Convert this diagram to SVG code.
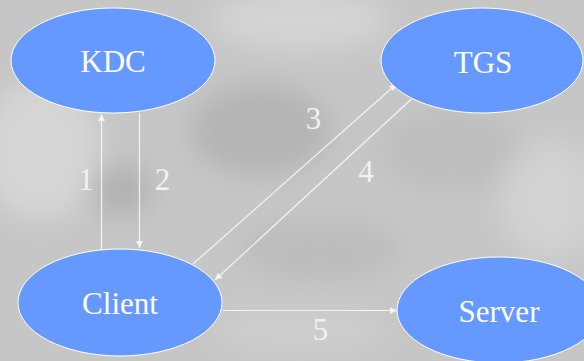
<svg xmlns="http://www.w3.org/2000/svg" width="584" height="361" viewBox="0 0 584 361">
  <style>
    .node ellipse { fill: #6699ff; stroke: #ffffff; stroke-width: 1; }
    .node text { font-family: "Liberation Serif", "Times New Roman", serif; font-size: 31px; fill: #ffffff; text-anchor: middle; }
    .edge line { stroke: #f4f4f4; stroke-width: 1.2; fill: none; marker-end: url(#arrow); }
    .lbl { font-family: "Liberation Serif", "Times New Roman", serif; font-size: 31px; fill: #f2f2f2; text-anchor: middle; }
  </style>
  <defs>
    <marker id="arrow" viewBox="0 0 10 10" refX="10" refY="5" markerWidth="9" markerHeight="7" markerUnits="userSpaceOnUse" orient="auto">
      <path d="M0,0 L10,5 L0,10 z" fill="#f4f4f4"/>
    </marker>
    <filter id="soft" x="-50%" y="-50%" width="200%" height="200%">
      <feGaussianBlur stdDeviation="14"/>
    </filter>
  </defs>

  <!-- grey mottled backdrop -->
  <rect width="584" height="361" fill="#c6c6c6"/>
  <g filter="url(#soft)">
    <ellipse cx="40" cy="150" rx="60" ry="70" fill="#d6d6d6"/>
    <ellipse cx="300" cy="20" rx="90" ry="30" fill="#d4d4d4"/>
    <ellipse cx="260" cy="130" rx="70" ry="45" fill="#b4b4b4"/>
    <ellipse cx="120" cy="190" rx="30" ry="25" fill="#b0b0b0"/>
    <ellipse cx="450" cy="150" rx="70" ry="40" fill="#bdbdbd"/>
    <ellipse cx="550" cy="200" rx="50" ry="60" fill="#d2d2d2"/>
    <ellipse cx="320" cy="250" rx="80" ry="30" fill="#bcbcbc"/>
    <ellipse cx="300" cy="330" rx="90" ry="25" fill="#cdcdcd"/>
  </g>

  <g id="edges">
    <g class="edge" id="e1"><line x1="101.5" y1="250" x2="101.5" y2="114"/></g>
    <g class="edge" id="e2"><line x1="139.5" y1="113" x2="139.5" y2="248"/></g>
    <g class="edge" id="e3"><line x1="193" y1="264" x2="396.5" y2="84"/></g>
    <g class="edge" id="e4"><line x1="411.5" y1="99" x2="215" y2="280"/></g>
    <g class="edge" id="e5"><line x1="222.5" y1="310.5" x2="397" y2="310.5"/></g>
    <text class="lbl" x="86" y="190">1</text>
    <text class="lbl" x="162.5" y="190">2</text>
    <text class="lbl" x="313.5" y="129">3</text>
    <text class="lbl" x="366" y="182">4</text>
    <text class="lbl" x="320.5" y="340">5</text>
  </g>

  <g id="kdc" class="node">
    <ellipse cx="113" cy="60.5" rx="102" ry="52.5"/>
    <text x="113" y="72">KDC</text>
  </g>
  <g id="tgs" class="node">
    <ellipse cx="482" cy="60.5" rx="101" ry="52.5"/>
    <text x="483" y="73">TGS</text>
  </g>
  <g id="client" class="node">
    <ellipse cx="120" cy="302.5" rx="102" ry="53.5"/>
    <text x="120" y="314">Client</text>
  </g>
  <g id="server" class="node">
    <ellipse cx="499" cy="310" rx="102" ry="53"/>
    <text x="499" y="322">Server</text>
  </g>
</svg>
